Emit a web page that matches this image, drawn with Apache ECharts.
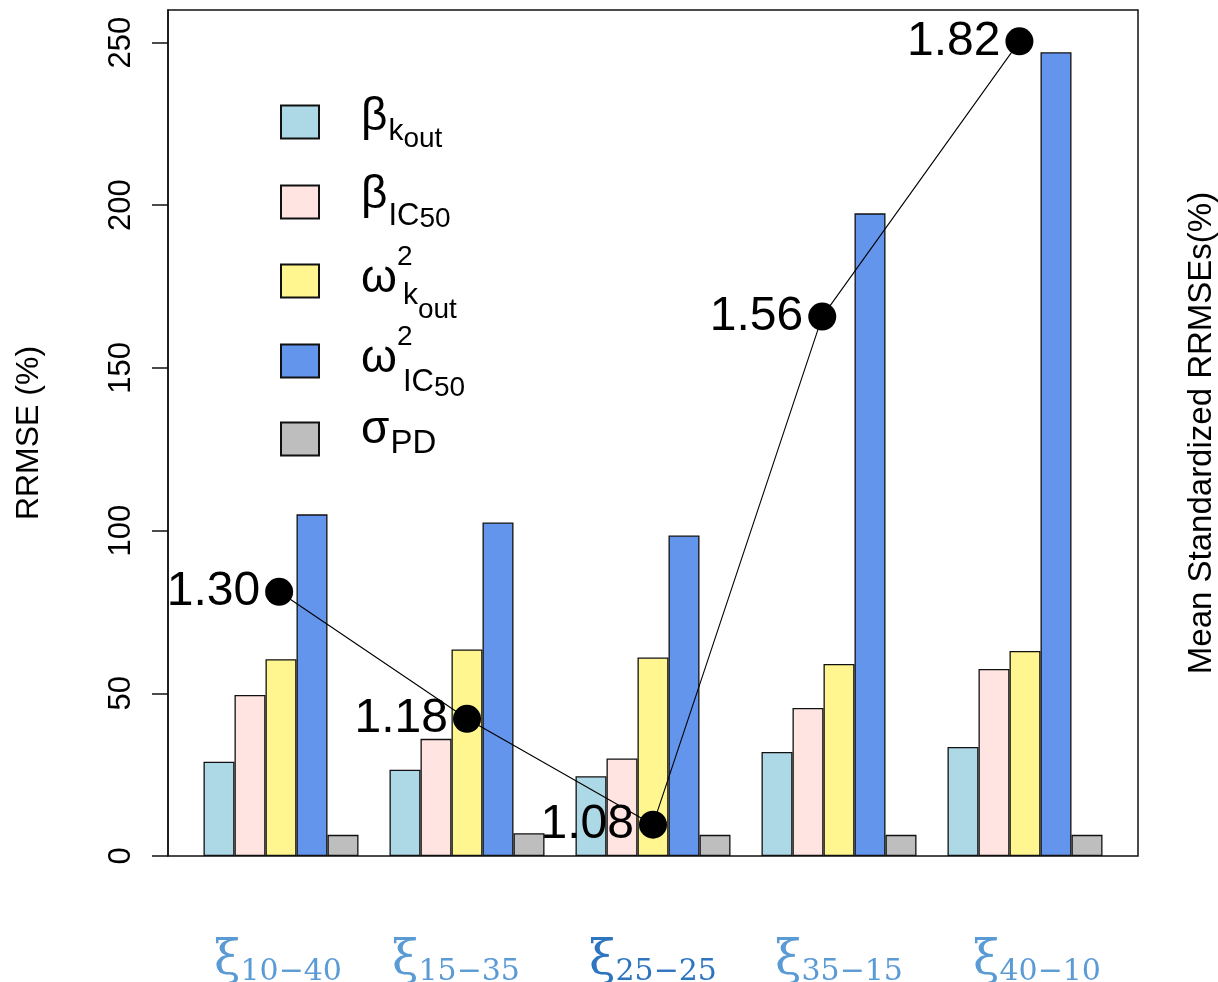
<!DOCTYPE html>
<html>
<head>
<meta charset="utf-8">
<script src="https://cdn.jsdelivr.net/npm/echarts@6/dist/echarts.min.js"></script>
<style>
html,body{margin:0;padding:0;background:#fff;}
#chart{width:1218px;height:982px;}
</style>
</head>
<body>
<div id="chart"></div>
<script>
// ---- data ----
const categories = ['ξ10−40', 'ξ15−35', 'ξ25−25', 'ξ35−15', 'ξ40−10'];
const seriesNames = ['beta_kout', 'beta_IC50', 'omega2_kout', 'omega2_IC50', 'sigma_PD'];
const betaKout   = [29, 26.5, 24.5, 32, 33.5];
const betaIC50   = [49.5, 36, 30, 45.5, 57.5];
const omega2Kout = [60.5, 63.5, 61, 59, 63];
const omega2IC50 = [105, 102.5, 98.5, 197.5, 247];
const sigmaPD    = [6.5, 7, 6.5, 6.5, 6.5];
const meanStdRRMSE = [1.30, 1.18, 1.08, 1.56, 1.82];
const meanX = [-0.01, 1.0, 2.0, 2.91, 3.97];
const yTicks = [0, 50, 100, 150, 200, 250];

const barValues = [betaKout, betaIC50, omega2Kout, omega2IC50, sigmaPD];
const barColors = ['#ADD8E6', '#FFE4E1', '#FFF68F', '#6495ED', '#BEBEBE'];

// legend label parts: [base, superscript, subscript, sub-subscript]
const legendParts = {
  beta_kout:   ['β', ' ', 'k', 'out'],
  beta_IC50:   ['β', ' ', 'IC', '50'],
  omega2_kout: ['ω', '2', 'k', 'out'],
  omega2_IC50: ['ω', '2', 'IC', '50'],
  sigma_PD:    ['σ', ' ', 'PD', '']
};

const chart = echarts.init(document.getElementById('chart'), null, {renderer: 'canvas'});
const FONT = 'Liberation Sans';

// rich-text token style whose centre sits d px from the line middle (line height LH)
const LH = 80;
function tok(fs, d, extra) {
  const st = {fontSize: fs, fontFamily: FONT, color: '#000'};
  if (d < -0.5) { const h = LH + 2 * d; st.verticalAlign = 'top'; st.height = h; st.lineHeight = h; }
  else if (d > 0.5) { const h = LH - 2 * d; st.verticalAlign = 'bottom'; st.height = h; st.lineHeight = h; }
  else { st.lineHeight = 20; }
  return Object.assign(st, extra || {});
}
// per-item vertical offsets (style only)
const legendStyle = [
  {b: -5, sup: -24, s: 10, ss: 17, fs: [46, 28, 30, 28], sPad: 0},
  {b: -7, sup: -24, s: 14, ss: 17, fs: [46, 28, 31, 28], sPad: 0},
  {b: -2, sup: -24, s: 15, ss: 29, fs: [46, 28, 30, 28], sPad: 5},
  {b: -2, sup: -24, s: 21, ss: 27, fs: [46, 28, 31, 28], sPad: 5},
  {b: -9, sup: -24, s: 5,  ss: 5,  fs: [46, 28, 33, 28], sPad: 0}
];

const series = barValues.map((vals, k) => ({
  name: seriesNames[k],
  type: 'bar',
  xAxisIndex: 1,
  yAxisIndex: 2,
  data: vals,
  barWidth: 31,
  barGap: '0%',
  itemStyle: {color: barColors[k], borderColor: '#111', borderWidth: 1.3},
  emphasis: {disabled: true},
  z: 2
}));

series.push({
  name: 'mean',
  type: 'line',
  xAxisIndex: 2,
  yAxisIndex: 3,
  data: meanStdRRMSE.map((v, i) => [meanX[i], v]),
  symbol: 'circle',
  symbolSize: 28,
  itemStyle: {color: '#000'},
  lineStyle: {color: '#000', width: 1.1},
  label: {
    show: true,
    position: 'left',
    distance: 5,
    fontFamily: FONT,
    fontSize: 48,
    color: '#000',
    formatter: p => p.value[1].toFixed(2)
  },
  z: 5
});

const legendCenters = [122, 202, 281, 361, 439];
const legends = seriesNames.map((nm, k) => {
  const ls = legendStyle[k];
  const p = legendParts[nm];
  const rich = {
    p:   {fontSize: 10, fontFamily: FONT, lineHeight: LH, width: 37},
    b:   tok(ls.fs[0], ls.b),
    sup: tok(ls.fs[1], ls.sup, {width: 1}),
    s:   tok(ls.fs[2], ls.s, {padding: [0, 0, 0, ls.sPad]}),
    ss:  tok(ls.fs[3], ls.ss)
  };
  let txt = '{p| }{b|' + p[0] + '}{sup|' + p[1] + '}{s|' + p[2] + '}';
  if (p[3]) txt += '{ss|' + p[3] + '}';
  return {
    data: [nm],
    left: 280,
    top: legendCenters[k] - LH / 2,
    padding: 0,
    itemWidth: 38,
    itemHeight: 33,
    selectedMode: false,
    icon: 'rect',
    formatter: () => txt,
    textStyle: {color: '#000', fontFamily: FONT, rich: rich}
  };
});

// x-label rich styles (horizontal nudges are style only)
const labelNudge = [-3, -11, 0, 0, 12];
const xRich = {};
categories.forEach((c, i) => {
  const col = i === 2 ? '#2E75C0' : '#5B9BD5';
  const n = labelNudge[i];
  xRich['xi' + i] = {fontSize: 48, fontFamily: 'DejaVu Serif', color: col, lineHeight: 60,
                     padding: [0, 0, 0, n > 0 ? 2 * n : 0]};
  xRich['sub' + i] = {fontSize: 30, fontFamily: 'DejaVu Serif', color: col, height: 40, lineHeight: 40,
                      verticalAlign: 'bottom', padding: [0, n < 0 ? -2 * n : 0, 0, 0]};
});

const option = {
  backgroundColor: '#fff',
  animation: false,
  grid: [
    {left: 168, right: 80, top: 10, bottom: 126, show: true, borderColor: '#111', borderWidth: 1.5, backgroundColor: 'transparent', outerBoundsMode: 'none'},
    {left: 188, right: 100, top: 10, bottom: 126, outerBoundsMode: 'none'}
  ],
  legend: legends,
  xAxis: [
    {type: 'value', gridIndex: 0, show: false, min: 0, max: 1},
    {
      type: 'category', gridIndex: 1, data: categories,
      axisLine: {show: false}, axisTick: {show: false},
      axisLabel: {
        margin: 76,
        interval: 0,
        formatter: (v, i) => '{xi' + i + '|' + v.charAt(0) + '}{sub' + i + '|' + v.slice(1) + '}',
        rich: xRich
      }
    },
    {type: 'value', gridIndex: 1, show: false, min: -0.5, max: 4.5}
  ],
  yAxis: [
    {
      type: 'value', gridIndex: 0, position: 'left', min: 0, max: 260,
      name: 'RRMSE (%)', nameLocation: 'middle', nameGap: 123, nameRotate: 90,
      nameTextStyle: {fontFamily: FONT, fontSize: 32, color: '#000'},
      axisLine: {show: true, lineStyle: {color: '#111', width: 1.5}},
      axisTick: {show: true, length: 16, customValues: yTicks, lineStyle: {color: '#111', width: 1.5}},
      axisLabel: {rotate: 90, margin: 31, fontFamily: FONT, fontSize: 31, color: '#000', customValues: yTicks},
      splitLine: {show: false}
    },
    {
      type: 'value', gridIndex: 0, position: 'right', min: 0, max: 1,
      name: 'Mean Standardized RRMSEs(%)', nameLocation: 'middle', nameGap: 47, nameRotate: 90,
      nameTextStyle: {fontFamily: FONT, fontSize: 33, color: '#000'},
      axisLine: {show: false}, axisTick: {show: false}, axisLabel: {show: false}, splitLine: {show: false}
    },
    {type: 'value', gridIndex: 1, show: false, min: 0, max: 260, splitLine: {show: false}},
    {type: 'value', gridIndex: 1, show: false, min: 1.0504, max: 1.8496, splitLine: {show: false}}
  ],
  series: series
};

chart.setOption(option);
</script>
</body>
</html>
